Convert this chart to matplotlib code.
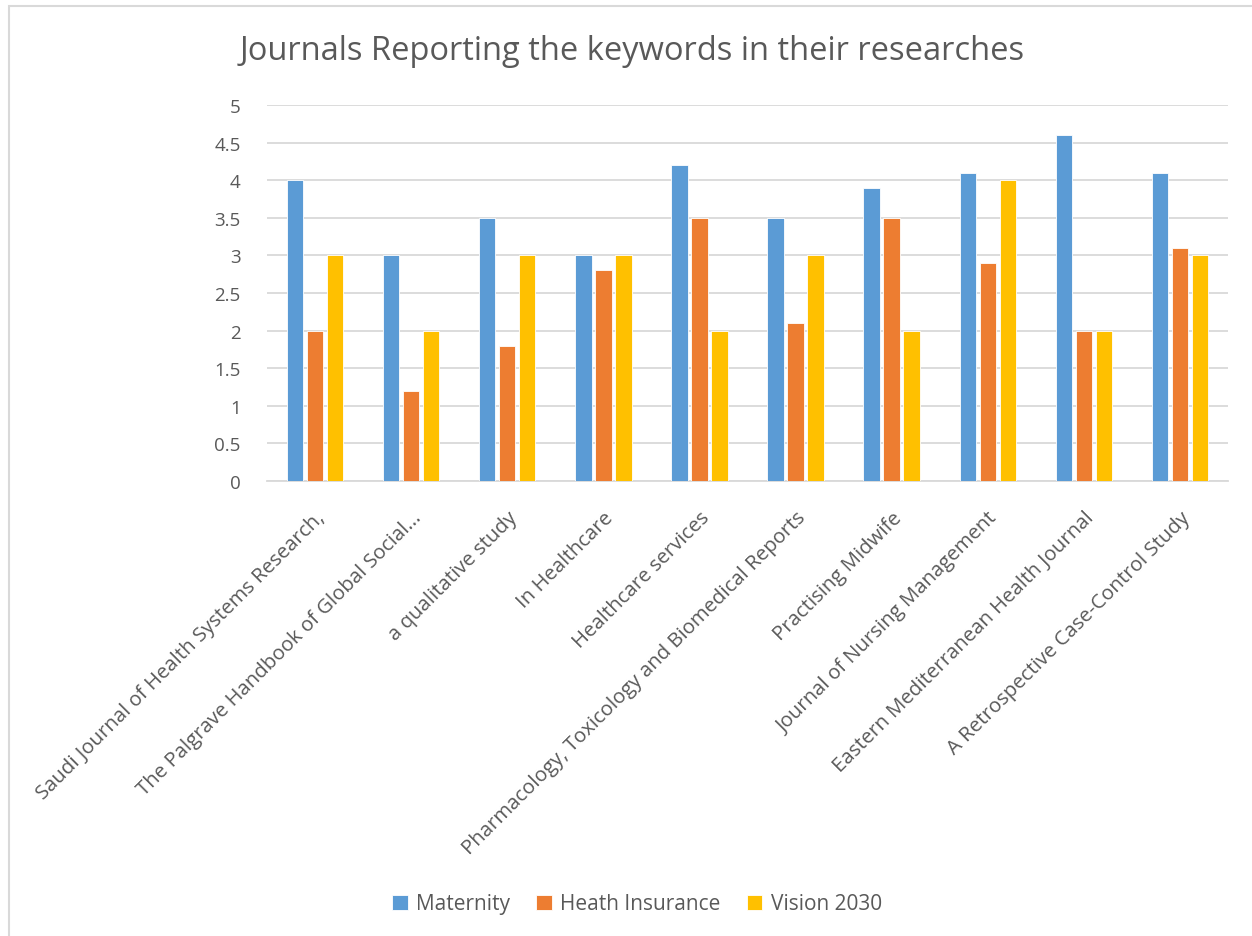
import matplotlib
matplotlib.use("Agg")
import matplotlib.pyplot as plt
import numpy as np
from matplotlib.patches import Rectangle

categories = [
    "Saudi Journal of Health Systems Research,",
    "The Palgrave Handbook of Global Social...",
    "a qualitative study",
    "In Healthcare",
    "Healthcare services",
    "Pharmacology, Toxicology and Biomedical Reports",
    "Practising Midwife",
    "Journal of Nursing Management",
    "Eastern Mediterranean Health Journal",
    "A Retrospective Case-Control Study",
]
series_names = ["Maternity", "Heath Insurance", "Vision 2030"]
maternity = [4, 3, 3.5, 3, 4.2, 3.5, 3.9, 4.1, 4.6, 4.1]
health_insurance = [2, 1.2, 1.8, 2.8, 3.5, 2.1, 3.5, 2.9, 2, 3.1]
vision_2030 = [3, 2, 3, 3, 2, 3, 2, 4, 2, 3]
colors = ["#5B9BD5", "#ED7D31", "#FFC000"]
yticks = [0, 0.5, 1, 1.5, 2, 2.5, 3, 3.5, 4, 4.5, 5]
ytick_labels = ["0", "0.5", "1", "1.5", "2", "2.5", "3", "3.5", "4", "4.5", "5"]

plt.rcParams['font.family'] = ['Open Sans', 'DejaVu Sans']
txt = "#595959"

fig = plt.figure(figsize=(12.52, 9.37), dpi=100)
ax = fig.add_axes([267/1252, 1-482/937, (1228-267)/1252, (482-106)/937])

x = np.arange(len(categories))
w = 0.17
step = 0.208
for i, (vals, name) in enumerate(zip([maternity, health_insurance, vision_2030], series_names)):
    ax.bar(x + (i-1)*step, vals, width=w, color=colors[i], label=name, zorder=3,
           edgecolor="white", linewidth=0.6)

ax.set_xlim(-0.5, len(categories)-0.5)
ax.set_ylim(0, 5)
ax.set_yticks(yticks)
ax.set_yticklabels(ytick_labels, fontsize=13.5, color=txt)
ax.yaxis.grid(True, color="#D9D9D9", linewidth=1.3, zorder=0)
ax.set_axisbelow(True)
for s in ["top", "right", "left"]:
    ax.spines[s].set_visible(False)
ax.spines["bottom"].set_color("#D9D9D9")
ax.spines["bottom"].set_linewidth(1.3)
ax.tick_params(axis="y", length=0, pad=19)
ax.tick_params(axis="x", length=0, pad=19)
ax.set_xticks(x)
ax.set_xticklabels(categories, rotation=45, ha="right", va="top",
                   rotation_mode="anchor", fontsize=14.7, color=txt)

fig.text(632/1252, 1-52/937, "Journals Reporting the keywords in their researches",
         ha="center", va="center", fontsize=23.5, color=txt)

leg = fig.legend(loc="center", bbox_to_anchor=(637/1252, 1-905/937), ncol=3,
                 frameon=False, fontsize=15, handlelength=0.75, handleheight=0.75,
                 columnspacing=1.25, handletextpad=0.4)
for t in leg.get_texts():
    t.set_color(txt)

fig.patches.append(Rectangle((9/1252, -0.05), 1.2, 1-7/937+0.05, transform=fig.transFigure,
                             fill=False, edgecolor="#D9D9D9", linewidth=1.5))

fig.savefig("out.png", dpi=100)
